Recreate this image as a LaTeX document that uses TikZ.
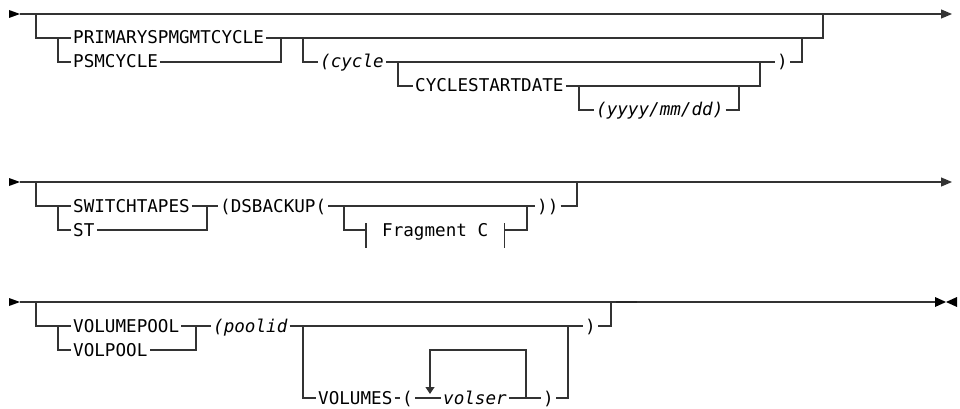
\documentclass[tikz,border=0pt]{standalone}
\usepackage{fontspec}
\setmainfont{DejaVu Sans Mono}
\usepackage{tikz}
\usetikzlibrary{arrows.meta, calc, positioning}
\usepackage{xcolor}

\begin{document}
\begin{tikzpicture}[x=1pt, y=-1pt,
  rail/.style={line width=1.2pt, black!80},
  kw/.style={anchor=west, inner xsep=2pt, inner ysep=0pt, text height=12pt, text depth=0pt,
    font=\fontsize{17.6}{20}\selectfont},
  frag/.style={kw, inner xsep=16pt},
  tip/.style={-{Triangle[length=11pt, width=9pt]}}]
  \useasboundingbox (0,0) rectangle (960,409);

  % row 1
  \coordinate (r1in) at (20,14);
  \coordinate (r1out) at (952,14);
  \coordinate (r1a) at (36,14);
  \coordinate (r1b) at (58,38);
  \coordinate (r1c) at (281,38);
  \coordinate (r1d) at (303,38);
  \coordinate (r1e) at (398,62);
  \coordinate (r1f) at (579,86);
  \coordinate (r1w) at (739,86);
  \coordinate (r1x) at (760,62);
  \coordinate (r1y) at (802,38);
  \coordinate (r1z) at (823,14);
  \node[kw] (prim) at (71,38) {PRIMARYSPMGMTCYCLE};
  \node[kw] (psm) at (71,62) {PSMCYCLE};
  \node[kw] (cyc) at (318,62) {\textit{(cycle}};
  \node[kw] (csd) at (413,86) {CYCLESTARTDATE};
  \node[kw] (ymd) at (594,110) {\textit{(yyyy/mm/dd)}};
  \node[kw] (cpar) at (775,62) {)};

  \fill (9,10) -- (9,18) -- (r1in) -- cycle;
  \draw[rail, tip] (r1in) -- (r1out);
  \draw[rail] (r1a) |- (prim.west);
  \draw[rail] (r1b) |- (psm.west);
  \draw[rail] (prim.east) -- (r1c) |- (psm.east);
  \draw[rail] (r1c) -| (r1z);
  \draw[rail] (r1d) |- (cyc.west);
  \draw[rail] (cyc.east) -- (cpar.west);
  \draw[rail] (cpar.east) -| (r1y);
  \draw[rail] (r1e) |- (csd.west);
  \draw[rail] (csd.east) -| (r1x);
  \draw[rail] (r1f) |- (ymd.west);
  \draw[rail] (ymd.east) -| (r1w);

  % row 2
  \coordinate (r2in) at (20,182);
  \coordinate (r2out) at (952,182);
  \coordinate (r2a) at (36,182);
  \coordinate (r2b) at (58,206);
  \coordinate (r2c) at (207,206);
  \coordinate (r2d) at (344,206);
  \coordinate (r2e) at (527,206);
  \coordinate (r2z) at (577,182);
  \node[kw] (swt) at (71,206) {SWITCHTAPES};
  \node[kw] (st) at (71,230) {ST};
  \node[kw] (dsb) at (218,206) {(DSBACKUP(};
  \node[kw] (cls) at (535,206) {))};
  \node[frag] (fragc) at (366,230) {Fragment C};

  \fill (9,178) -- (9,186) -- (r2in) -- cycle;
  \draw[rail, tip] (r2in) -- (r2out);
  \draw[rail] (r2a) |- (swt.west);
  \draw[rail] (r2b) |- (st.west);
  \draw[rail] (swt.east) -- (r2c) |- (st.east);
  \draw[rail] (r2c) -- (dsb.west);
  \draw[rail] (dsb.east) -- (cls.west);
  \draw[rail] (cls.east) -| (r2z);
  \draw[rail] (r2d) |- (fragc.west);
  \draw[rail] (fragc.east) -| (r2e);
  \draw[rail] ($(fragc.west)+(0,-7)$) -- ++(0,25);
  \draw[rail] ($(fragc.east)+(0,-7)$) -- ++(0,25);

  % row 3
  \coordinate (r3in) at (20,302);
  \coordinate (r3out) at (935,302);
  \coordinate (r3a) at (36,302);
  \coordinate (r3b) at (58,326);
  \coordinate (r3c) at (196,326);
  \coordinate (r3d) at (303,326);
  \coordinate (r3f) at (568,326);
  \coordinate (r3g) at (526,398);
  \coordinate (r3h) at (430,398);
  \coordinate (r3z) at (611,302);
  \node[kw] (vpl) at (71,326) {VOLUMEPOOL};
  \node[kw] (vp) at (71,350) {VOLPOOL};
  \node[kw] (pid) at (211,326) {\textit{(poolid}};
  \node[kw] (ppar) at (583,326) {)};
  \node[kw] (vols) at (316,398) {VOLUMES};
  \node[kw] (lpar) at (400,398) {(};
  \node[kw] (vsr) at (441,398) {\textit{volser}};
  \node[kw] (rpar) at (541,398) {)};

  \fill (9,298) -- (9,306) -- (r3in) -- cycle;
  \draw[rail] (r3in) -- (r3out);
  \draw[line width=2.6pt, black!85] (616,302) -- (637,302);
  \fill (r3out) -- ++(0,-5) -- ++(11,5) -- ++(11,-5) -- ++(0,10) -- ++(-11,-5) -- ++(-11,5) -- cycle;
  \draw[rail] (r3a) |- (vpl.west);
  \draw[rail] (r3b) |- (vp.west);
  \draw[rail] (vpl.east) -- (r3c) |- (vp.east);
  \draw[rail] (r3c) -- (pid.west);
  \draw[rail] (pid.east) -- (ppar.west);
  \draw[rail] (ppar.east) -| (r3z);
  \draw[rail] (r3d) |- (vols.west);
  \draw[rail] (vols.east) -- (lpar.west);
  \draw[rail] (lpar.east) -- (vsr.west);
  \draw[rail] (vsr.east) -- (rpar.west);
  \draw[rail] (rpar.east) -| (r3f);
  \draw[rail, -{Triangle[length=7pt, width=9pt]}, shorten >=4pt] (r3g) -- ++(0,-48) -| (r3h);
\end{tikzpicture}
\end{document}
